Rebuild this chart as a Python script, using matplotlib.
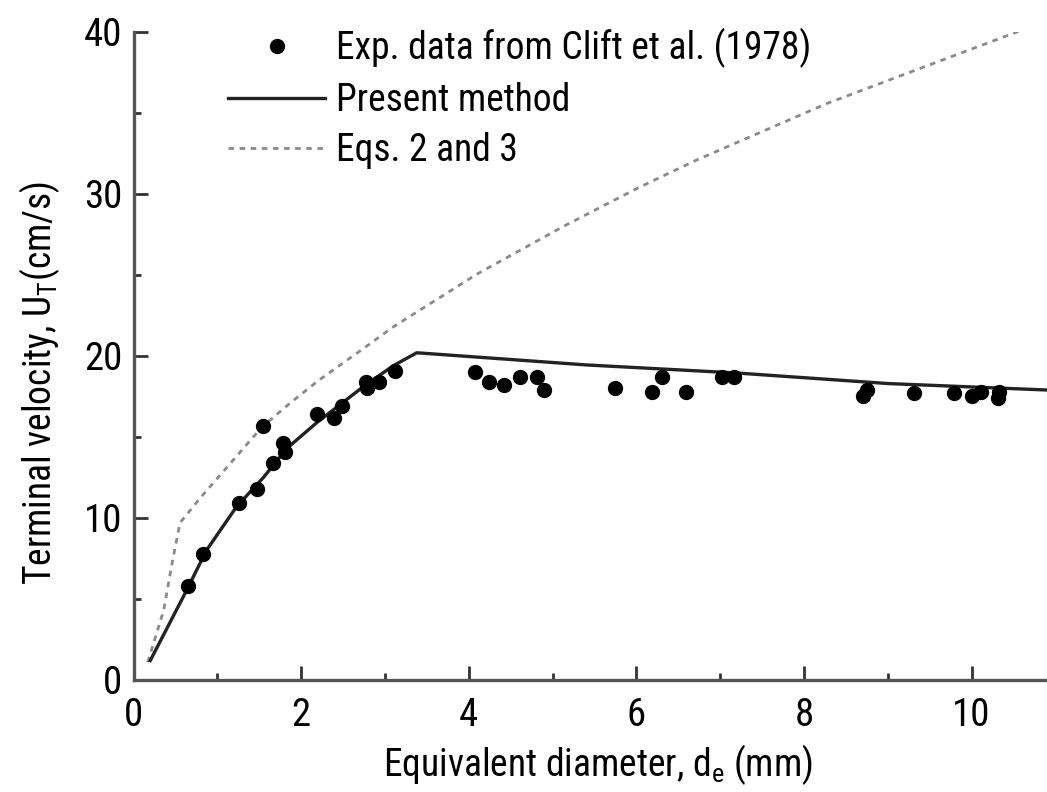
import matplotlib
matplotlib.use("Agg")
import matplotlib.pyplot as plt
from matplotlib.ticker import MultipleLocator
from matplotlib import font_manager

# Experimental terminal velocities (Clift et al., 1978)
exp_d = [0.65, 0.83, 1.26, 1.47, 1.54, 1.67, 1.78, 1.81, 2.19, 2.39, 2.49,
         2.78, 2.79, 2.93, 3.12, 4.07, 4.24, 4.42, 4.61, 4.82, 4.90, 5.74,
         6.19, 6.31, 6.59, 7.02, 7.16, 8.71, 8.75, 9.31, 9.79, 10.0, 10.11,
         10.31, 10.33]
exp_u = [5.8, 7.8, 10.9, 11.8, 15.7, 13.4, 14.6, 14.1, 16.4, 16.2, 16.9,
         18.4, 18.0, 18.4, 19.1, 19.0, 18.4, 18.2, 18.7, 18.7, 17.9, 18.0,
         17.8, 18.7, 17.8, 18.7, 18.7, 17.5, 17.9, 17.7, 17.7, 17.5, 17.8,
         17.4, 17.8]

# Present method prediction
pm_d = [0.2, 0.64, 0.87, 1.23, 1.55, 1.83, 2.19, 2.74, 3.1, 3.38, 5.4, 7.2,
        9.0, 10.9]
pm_u = [1.2, 5.6, 8.0, 10.7, 12.5, 14.3, 15.9, 18.1, 19.4, 20.2, 19.45,
        18.95, 18.3, 17.9]

# Eqs. 2 and 3
eq_d = [0.17, 0.36, 0.46, 0.555, 0.79, 1.11, 1.53, 1.87, 2.21, 2.70, 3.10,
        4.10, 5.13, 6.01, 6.72, 8.28, 10.9]
eq_u = [1.1, 4.3, 7.2, 9.7, 11.2, 13.1, 15.6, 17.1, 18.5, 20.3, 21.8,
        25.06, 28.0, 30.35, 32.1, 35.6, 40.7]

x_ticks = [0, 2, 4, 6, 8, 10]
y_ticks = [0, 10, 20, 30, 40]

# Prefer a narrow sans face when one is installed
fonts = font_manager.fontManager.ttflist
narrow = [f for f in fonts
          if f.name in ("Liberation Sans Narrow", "Roboto Condensed",
                        "Open Sans Condensed", "Arial Narrow")]
condensed = [f for f in fonts
             if f.name in ("Liberation Sans", "Roboto", "Open Sans", "Noto Sans",
                           "DejaVu Sans")
             and str(f.stretch) in ("condensed", "semi-condensed", "extra-condensed")
             and f.weight in (400, "normal", "regular")
             and f.style == "normal"]
stretch = "normal"
if narrow:
    family = narrow[0].name
    fs, tfs = 27, 28
elif condensed:
    family = condensed[0].name
    stretch = "condensed"
    fs, tfs = 26, 27
else:
    family = "Liberation Sans"
    fs, tfs = 25, 26

plt.rcParams["font.family"] = [family, "DejaVu Sans"]
plt.rcParams["font.stretch"] = stretch
plt.rcParams["mathtext.fontset"] = "custom"
plt.rcParams["mathtext.rm"] = family
plt.rcParams["mathtext.it"] = family

W, H = 1047, 792
fig = plt.figure(figsize=(W / 100, H / 100), dpi=100)
ax = fig.add_axes([133.5 / W, 1 - 680 / H, (W - 133.5) / W, (680 - 32) / H])

ax.plot(eq_d, eq_u, color="#8a8a8a", lw=2.0, linestyle=(0, (2, 2)),
        label="Eqs. 2 and 3", zorder=2)
ax.plot(pm_d, pm_u, color="#222222", lw=2.4, label="Present method", zorder=3)
ax.plot(exp_d, exp_u, "o", color="black", markersize=10, linestyle="none",
        label="Exp. data from Clift et al. (1978)", zorder=4)

ax.set_xlim(0, 10.9)
ax.set_ylim(0, 40)
ax.set_xticks(x_ticks)
ax.set_yticks(y_ticks)
ax.xaxis.set_minor_locator(MultipleLocator(1))
ax.yaxis.set_minor_locator(MultipleLocator(5))
ax.tick_params(which="major", direction="in", length=10, width=2, color="#333333",
               labelsize=tfs, pad=8)
ax.tick_params(which="minor", direction="in", length=5, width=2, color="#333333")
ax.tick_params(axis="x", pad=12)

for side in ("top", "right"):
    ax.spines[side].set_visible(False)
for side in ("left", "bottom"):
    ax.spines[side].set_linewidth(2.4)
    ax.spines[side].set_color("#555555")

handles, labels = ax.get_legend_handles_labels()
order = [2, 1, 0]
leg = ax.legend([handles[i] for i in order], [labels[i] for i in order],
                loc="upper left", bbox_to_anchor=(228 / W, 1 - 28 / H),
                bbox_transform=fig.transFigure, frameon=False, fontsize=fs,
                handlelength=97 / (fs * 100 / 72), handletextpad=0.28,
                labelspacing=0.36, borderpad=0, borderaxespad=0)

fig.text(598 / W, 1 - 765 / H, r"Equivalent diameter, d$_\mathrm{e}$ (mm)",
         ha="center", va="center", fontsize=fs)
fig.text(40 / W, 1 - 383 / H, r"Terminal velocity, U$_\mathrm{T}$(cm/s)",
         ha="center", va="center", rotation=90, fontsize=fs)

fig.savefig("out.png", dpi=100)
